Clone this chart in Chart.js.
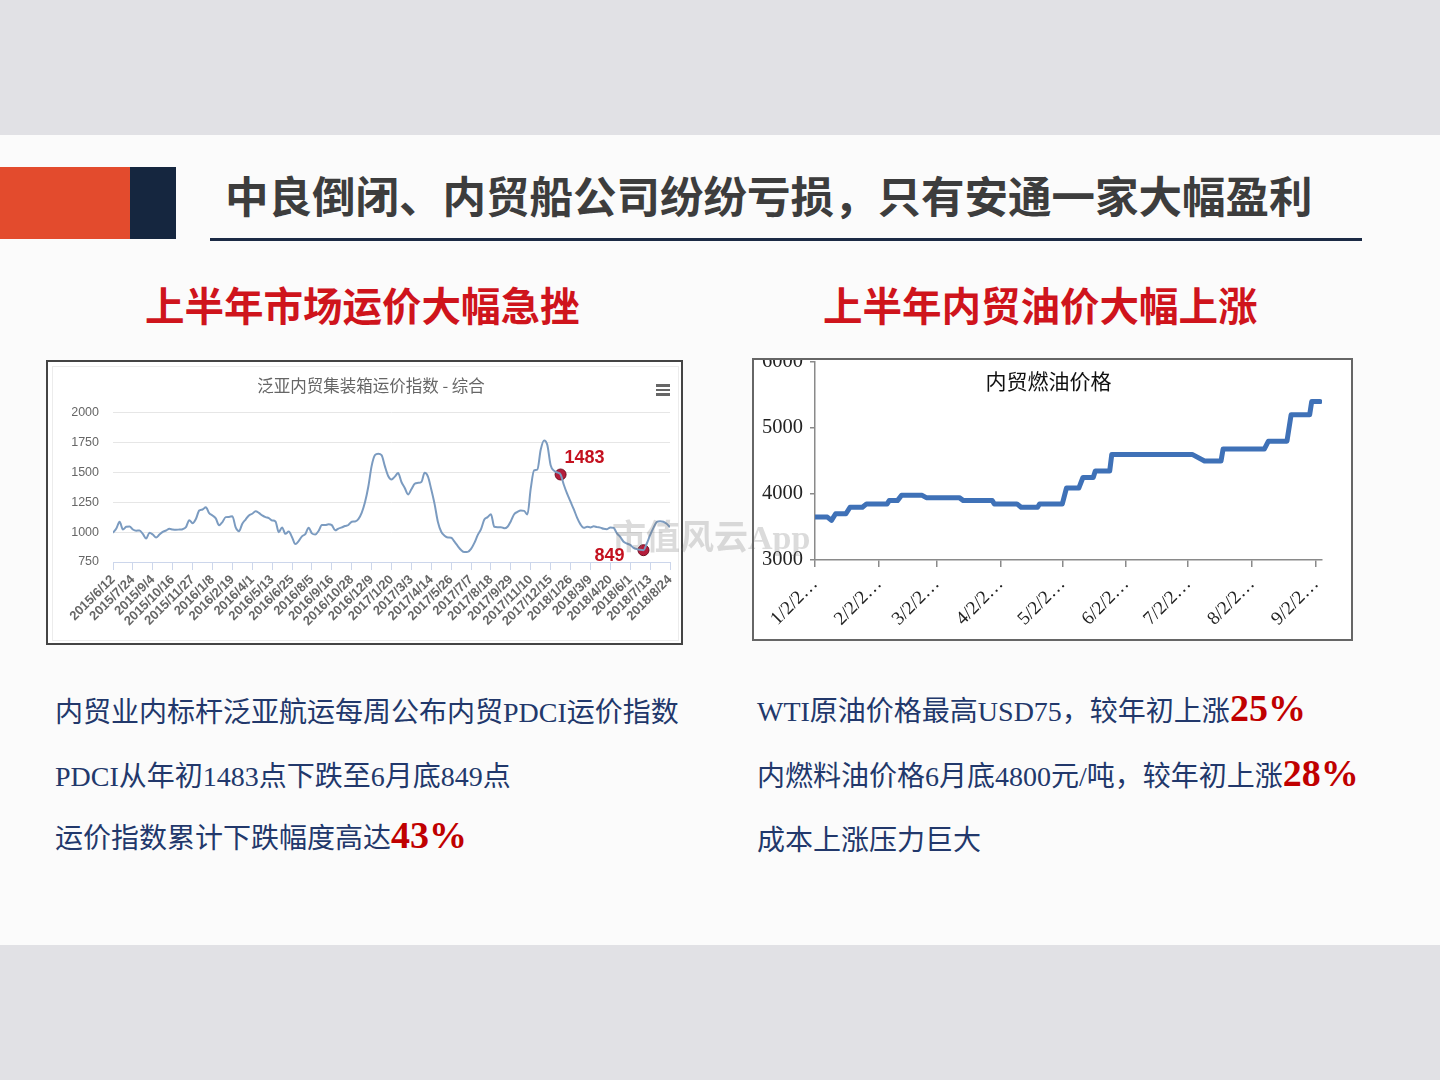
<!DOCTYPE html>
<html><head><meta charset="utf-8">
<script src="https://cdn.jsdelivr.net/npm/chart.js@4.4.0/dist/chart.umd.min.js"></script>
<style>
html,body{margin:0;padding:0;}
body{width:1440px;height:1080px;position:relative;background:#e1e1e5;overflow:hidden;font-family:"Noto Sans CJK SC",sans-serif;}
.abs{position:absolute;white-space:nowrap;}
#slide{left:0;top:135px;width:1440px;height:810px;background:#fbfbfb;}
#blkO{left:0;top:167px;width:130px;height:72px;background:#e34b2d;}
#blkN{left:130px;top:167px;width:46px;height:72px;background:#15263f;}
#title{left:225px;top:173px;font-size:43.5px;line-height:1;font-weight:700;color:#3d3d3d;}
#uline{left:210px;top:238px;width:1152px;height:3px;background:#1b2a45;}
.sub{font-size:39.5px;line-height:1;font-weight:700;color:#cf141c;top:284px;}
#boxL{left:46px;top:360px;width:633px;height:281px;border:2px solid #444;background:#fff;}
#innerL{left:52px;top:366px;width:625px;height:273px;border:1px solid #ececec;}
#wrapL{left:48px;top:362px;width:633px;height:281px;}
#boxR{left:752px;top:358px;width:597px;height:279px;border:2px solid #666;background:#fff;}
#wrapR{left:754px;top:360px;width:597px;height:279px;overflow:hidden;}
#wrapR canvas{position:absolute;left:0;top:-20px;}
.bar{position:absolute;left:656px;width:14px;height:2.5px;background:#666;}
.txt{font-family:"Liberation Serif","Noto Sans CJK SC",serif;font-size:28px;line-height:1;color:#22386b;}
.red{font-family:"Liberation Serif",serif;font-size:38px;line-height:0;font-weight:700;color:#c00000;}
#wm{left:612px;top:521px;font-family:"Liberation Serif","Noto Sans CJK SC",serif;font-size:34px;line-height:1;color:rgba(110,110,110,0.25);font-weight:700;}
</style></head>
<body>
<div id="slide" class="abs"></div>
<div id="blkO" class="abs"></div>
<div id="blkN" class="abs"></div>
<div id="title" class="abs">中良倒闭、内贸船公司纷纷亏损，只有安通一家大幅盈利</div>
<div id="uline" class="abs"></div>
<div class="abs sub" style="left:145px;">上半年市场运价大幅急挫</div>
<div class="abs sub" style="left:823px;">上半年内贸油价大幅上涨</div>

<div id="boxL" class="abs"></div>
<div id="innerL" class="abs"></div>
<div id="wrapL" class="abs"><canvas id="c1" width="633" height="281"></canvas></div>
<div class="bar" style="top:384px;"></div>
<div class="bar" style="top:388.5px;"></div>
<div class="bar" style="top:393px;"></div>

<div id="boxR" class="abs"></div>
<div id="wrapR" class="abs"><canvas id="c2" width="597" height="299"></canvas></div>

<div class="abs txt" style="left:55px;top:699px;">内贸业内标杆泛亚航运每周公布内贸PDCI运价指数</div>
<div class="abs txt" style="left:55px;top:763px;">PDCI从年初1483点下跌至6月底849点</div>
<div class="abs txt" style="left:55px;top:825px;">运价指数累计下跌幅度高达<span class="red">43%</span></div>
<div class="abs txt" style="left:757px;top:698px;">WTI原油价格最高USD75，较年初上涨<span class="red">25%</span></div>
<div class="abs txt" style="left:757px;top:763px;">内燃料油价格6月底4800元/吨，较年初上涨<span class="red">28%</span></div>
<div class="abs txt" style="left:757px;top:827px;">成本上涨压力巨大</div>

<div id="wm" class="abs">市值风云App</div>

<script>
// ---------- Left chart data: PDCI weekly index ----------
const pdciTitle = '泛亚内贸集装箱运价指数 - 综合';
const pdciTickLabels = ['2015/6/12','2015/7/24','2015/9/4','2015/10/16','2015/11/27','2016/1/8','2016/2/19','2016/4/1','2016/5/13','2016/6/25','2016/8/5','2016/9/16','2016/10/28','2016/12/9','2017/1/20','2017/3/3','2017/4/14','2017/5/26','2017/7/7','2017/8/18','2017/9/29','2017/11/10','2017/12/15','2018/1/26','2018/3/9','2018/4/20','2018/6/1','2018/7/13','2018/8/24'];
const pdciValues = [
 995,1030,1087,1022,1045,1048,1022,1012,1014,985,
 947,995,980,955,980,1003,1014,1028,1022,1020,
 1022,1025,1042,1100,1075,1110,1181,1190,1209,1160,
 1140,1115,1058,1085,1126,1128,1134,1040,1008,1070,
 1106,1140,1154,1175,1162,1140,1126,1117,1098,1090,
 1000,1040,986,1005,958,900,925,965,983,1036,
 990,980,1010,1060,1059,1066,1059,1015,1030,1040,
 1052,1060,1087,1090,1110,1162,1250,1380,1553,1645,
 1656,1645,1553,1470,1441,1465,1495,1420,1370,1316,
 1360,1405,1413,1420,1497,1465,1357,1235,1085,1003,
 970,955,953,920,883,850,833,835,860,910,
 975,1025,1106,1126,1150,1045,1042,1042,1032,1045,
 1092,1150,1170,1181,1178,1148,1366,1517,1525,1690,
 1768,1730,1560,1515,1500,1483,1395,1320,1255,1190,
 1120,1065,1036,1045,1040,1050,1042,1038,1028,1025,
 1040,1035,990,960,919,905,893,869,858,852,
 849,905,975,1036,1085,1092,1087,1070,1042
];
const pdciMarkerIdx = [135, 160];
const pdciYTicks = [750, 2000, 250]; // min, max, step

// ---------- Right chart data: domestic fuel oil price ----------
const oilTitle = '内贸燃油价格';
const oilDays = [0,6,8,10,15,17,23,25,35,36,40,42,52,54,70,72,86,87,98,100,108,109,120,122,128,130,135,136,143,144,183,189,197,198,218,220,229,231,240,241,245];
const oilPrices = [3650,3650,3600,3700,3700,3800,3800,3850,3850,3900,3900,3980,3980,3945,3945,3900,3900,3850,3850,3800,3800,3850,3850,4090,4090,4250,4250,4350,4350,4600,4600,4500,4500,4680,4680,4800,4800,5200,5200,5400,5400];
const oilYTicks = [3000, 6000, 1000];
const oilTickDays = [0,31,59,90,120,151,181,212,243];
const oilTickLabels = ['1/2/2…','2/2/2…','3/2/2…','4/2/2…','5/2/2…','6/2/2…','7/2/2…','8/2/2…','9/2/2…'];

const pointLabels = {
  id: 'pointLabels',
  afterDatasetsDraw(chart, args, opts) {
    const meta = chart.getDatasetMeta(1);
    const ctx = chart.ctx;
    ctx.save();
    ctx.font = opts.font;
    ctx.fillStyle = opts.color;
    ctx.textAlign = 'center';
    ctx.textBaseline = 'middle';
    meta.data.forEach((pt, k) => {
      const off = opts.offsets[k];
      ctx.fillText(String(pdciValues[pdciMarkerIdx[k]]), pt.x + off[0], pt.y + off[1]);
    });
    ctx.restore();
  }
};

const overlayTitle = {
  id: 'overlayTitle',
  afterDraw(chart, args, opts) {
    if (!opts.text) return;
    const ctx = chart.ctx;
    ctx.save();
    ctx.font = opts.font;
    ctx.fillStyle = opts.color;
    ctx.textAlign = 'center';
    ctx.textBaseline = 'middle';
    ctx.fillText(opts.text, chart.width / 2 + opts.dx, chart.chartArea.top + opts.dy);
    ctx.restore();
  }
};

new Chart(document.getElementById('c1'), {
  type: 'line',
  data: {
    datasets: [
      {
        data: pdciValues.map((v, i) => ({x: i, y: v})),
        borderColor: '#7b9bc0',
        borderWidth: 2,
        pointRadius: 0,
        cubicInterpolationMode: 'monotone',
        fill: false
      },
      {
        data: pdciMarkerIdx.map(i => ({x: i, y: pdciValues[i]})),
        showLine: false,
        pointRadius: 5.5,
        pointBackgroundColor: '#b51d3b',
        pointBorderColor: '#6e0e20',
        pointBorderWidth: 1
      }
    ]
  },
  options: {
    responsive: false,
    animation: false,
    devicePixelRatio: 1,
    layout: {padding: {left: 24, right: 11, top: 0, bottom: 0}},
    plugins: {
      legend: {display: false},
      tooltip: {enabled: false},
      title: {
        display: true,
        text: pdciTitle,
        color: '#666',
        font: {family: 'Noto Sans CJK SC', size: 16.5, weight: 'normal', lineHeight: 1.2},
        padding: {top: 14, bottom: 17}
      },
      pointLabels: {font: 'bold 18px "Liberation Sans"', color: '#c4111f', offsets: [[24, -16], [-34, 6]]}
    },
    scales: {
      x: {
        type: 'linear',
        min: 0,
        max: pdciValues.length - 1,
        ticks: {
          stepSize: 6,
          autoSkip: false,
          maxRotation: 45,
          minRotation: 45,
          padding: 2,
          color: '#666',
          font: {family: 'Liberation Sans', size: 13, weight: 'bold'},
          callback: (v) => pdciTickLabels[Math.round(v / 6)] || ''
        },
        grid: {drawOnChartArea: false, color: '#ccd6eb', tickLength: 8},
        border: {color: '#ccd6eb'},
        afterFit: (s) => { s.height = 81; s.paddingLeft = 0; s.paddingRight = 0; }
      },
      y: {
        min: pdciYTicks[0],
        max: pdciYTicks[1],
        ticks: {stepSize: pdciYTicks[2], padding: 14, color: '#666', font: {family: 'Liberation Sans', size: 12.5},
          callback: (v) => String(v)},
        grid: {color: (c) => (c.tick && c.tick.value === pdciYTicks[0]) ? '#ccd6eb' : '#e6e6e6', drawTicks: false},
        border: {display: false},
        afterFit: (s) => { s.width = 41; }
      }
    }
  },
  plugins: [pointLabels]
});

new Chart(document.getElementById('c2'), {
  type: 'line',
  data: {
    datasets: [{
      data: oilDays.map((d, i) => ({x: d, y: oilPrices[i]})),
      borderColor: '#3f71b7',
      borderWidth: 5,
      pointRadius: 0,
      tension: 0,
      borderJoinStyle: 'round',
      borderCapStyle: 'round',
      fill: false
    }]
  },
  options: {
    responsive: false,
    animation: false,
    devicePixelRatio: 1,
    layout: {padding: {left: 0, right: 29, top: 22, bottom: 0}},
    plugins: {
      legend: {display: false},
      tooltip: {enabled: false},
      overlayTitle: {text: oilTitle, font: '21px "Noto Sans CJK SC"', color: '#111', dx: -4, dy: 19}
    },
    scales: {
      x: {
        type: 'linear',
        min: 0,
        max: 246,
        afterBuildTicks: (s) => { s.ticks = oilTickDays.map(v => ({value: v})); },
        ticks: {
          autoSkip: false,
          maxRotation: 45,
          minRotation: 45,
          padding: 6,
          color: '#222',
          font: {family: 'Liberation Serif', size: 19},
          callback: (v, i) => oilTickLabels[i]
        },
        grid: {drawOnChartArea: false, color: '#8a8a8a', tickLength: 7, lineWidth: 1.5},
        border: {color: '#8a8a8a', width: 1.5},
        afterFit: (s) => { s.height = 79; s.paddingLeft = 0; s.paddingRight = 0; }
      },
      y: {
        min: oilYTicks[0],
        max: oilYTicks[1],
        ticks: {stepSize: oilYTicks[2], padding: 7, color: '#222', font: {family: 'Liberation Serif', size: 20.5},
          callback: (v) => String(v)},
        grid: {drawOnChartArea: false, color: '#8a8a8a', tickLength: 5, lineWidth: 1.5},
        border: {color: '#8a8a8a', width: 1.5},
        afterFit: (s) => { s.width = 61; s.paddingTop = 0; s.paddingBottom = 0; }
      }
    }
  },
  plugins: [overlayTitle]
});
</script>
</body></html>
